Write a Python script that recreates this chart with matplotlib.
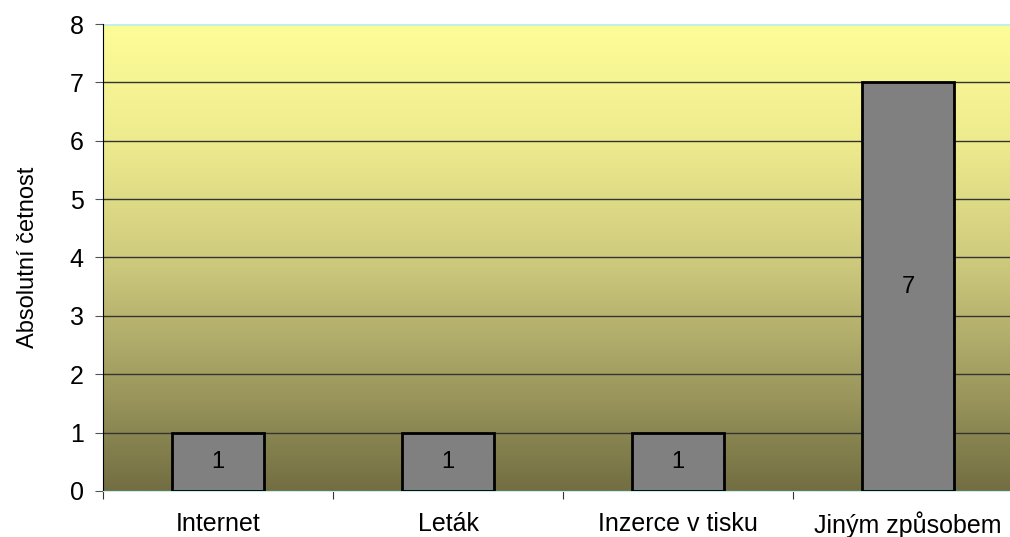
import numpy as np
import matplotlib.pyplot as plt
from matplotlib.colors import LinearSegmentedColormap

plt.rcParams['font.family'] = ['Liberation Sans', 'DejaVu Sans']

categories = ['Internet', 'Leták', 'Inzerce v tisku', 'Jiným způsobem']
counts = [1, 1, 1, 7]

fig = plt.figure(figsize=(10.1, 5.37), dpi=100)
ax = fig.add_axes([0.102, 0.0857, 0.911, 0.8696])

# gradient background, light yellow at top to olive at bottom
cmap = LinearSegmentedColormap.from_list(
    'bg', [(0.0, '#726e42'), (0.25, '#a39f62'), (0.5, '#cfcb7e'),
           (0.75, '#eeeb8e'), (1.0, '#fdfd98')])
grad = np.linspace(0, 1, 256).reshape(-1, 1)
ax.imshow(grad, extent=[-0.5, 3.5, 0, 8], origin='lower', aspect='auto',
          cmap=cmap, zorder=0)

x = np.arange(len(categories))
bars = ax.bar(x, counts, width=0.4, color='#808080', edgecolor='black',
              linewidth=2, zorder=3)
for b, v in zip(bars, counts):
    ax.text(b.get_x() + b.get_width() / 2, v / 2, str(v), ha='center',
            va='center', fontsize=17, zorder=4)

ax.set_xlim(-0.5, 3.5)
ax.set_ylim(0, 8)
ax.set_yticks(range(0, 9))
for yv in range(1, 8):
    ax.axhline(yv, color='#333333', linewidth=1, zorder=1)
ax.axhline(8, color='#bfeff0', linewidth=2, zorder=1)

ax.set_xticks(np.arange(-0.5, 3.6, 1), minor=False)
ax.set_xticklabels([])
ax.set_xticks(x, minor=True)
ax.set_xticklabels(categories, minor=True, fontsize=18)
ax.tick_params(axis='x', which='minor', length=0, pad=15)
ax.tick_params(axis='x', which='major', length=6, color='#333333')
ax.tick_params(axis='y', labelsize=18, length=6, color='#555555', pad=8)

for s in ['top', 'right']:
    ax.spines[s].set_visible(False)
ax.spines['left'].set_color('black')
ax.spines['bottom'].set_color('#bfeff0')

ax.set_ylabel('Absolutní četnost', fontsize=17, labelpad=22)

fig.savefig('out.png', dpi=100)
